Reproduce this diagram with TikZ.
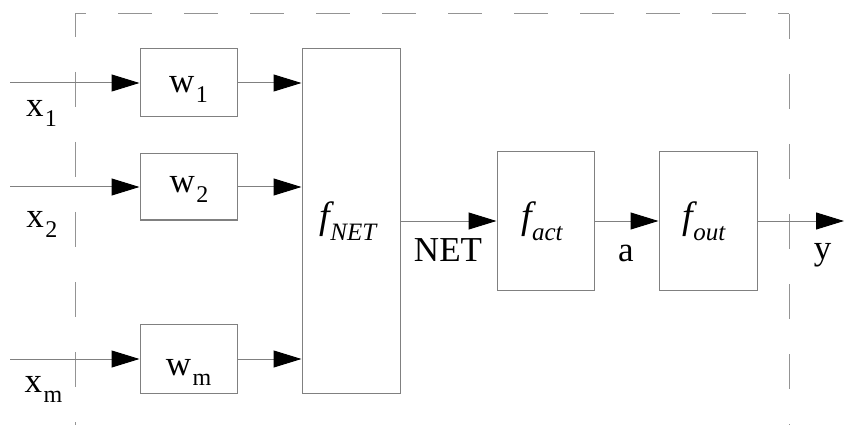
\documentclass[tikz,border=0pt]{standalone}
\usepackage{fontspec}
\setmainfont{Liberation Serif}
\usetikzlibrary{arrows.meta}

% variable with a lowered index, e.g. x_1, w_m
\newcommand{\idx}[2]{#1\kern1.5pt\raisebox{-10pt}{\fontsize{24}{24}\selectfont #2}}
% italic function name with italic lowered index, e.g. f_act
\newcommand{\fidx}[1]{{\fontsize{38}{40}\selectfont\itshape f}\raisebox{-12pt}{\fontsize{25}{25}\selectfont\itshape #1}}

\tikzset{
  lin/.style={draw=black!50, line width=1pt},
  arr/.style={lin, -{Triangle[length=28pt,width=17pt,color=black]}},
  blk/.style={draw=black!50, line width=1pt, inner sep=0pt},
  frame/.style={draw=black!42, line width=1pt},
  txt/.style={anchor=base, inner sep=0pt, font=\fontsize{35}{36}\selectfont},
}

\begin{document}
\begin{tikzpicture}[x=1pt,y=-1pt]
\useasboundingbox (0,0) rectangle (844,425);

% dashed system boundary (open at the bottom)
\draw[frame, dash pattern=on 35pt off 35pt, dash phase=12pt] (75,14) -- (75,425);
\draw[frame, dash pattern=on 34pt off 32pt, dash phase=23pt] (75,14) -- (789,14);
\draw[frame, dash pattern=on 35pt off 35pt, dash phase=10pt] (789,14) -- (789,425);

% weight blocks
\node[blk, minimum width=97pt, minimum height=68pt] (w1) at (188.5,83) {};
\node[blk, minimum width=97pt, minimum height=66pt] (w2) at (188.5,187) {};
\node[blk, minimum width=97pt, minimum height=69pt] (wm) at (188.5,359) {};

% network, activation and output functions
\node[blk, minimum width=98pt, minimum height=344pt] (fnet) at (351,221) {};
\node[blk, minimum width=97pt, minimum height=138pt] (fact) at (545.5,221) {};
\node[blk, minimum width=98pt, minimum height=138pt] (fout) at (708,221) {};

% free ends of the inputs and the output
\coordinate (in1) at (10,83);
\coordinate (in2) at (10,187);
\coordinate (inm) at (10,359);
\coordinate (out) at (844,221);

% connectors
\draw[arr] (in1) -- (w1.west);
\draw[arr] (in2) -- (w2.west);
\draw[arr] (inm) -- (wm.west);
\draw[arr] (w1.east) -- (w1.east -| fnet.west);
\draw[arr] (w2.east) -- (w2.east -| fnet.west);
\draw[arr] (wm.east) -- (wm.east -| fnet.west);
\draw[arr] (fnet.east) -- (fact.west);
\draw[arr] (fact.east) -- (fout.west);
\draw[arr] (fout.east) -- (out);

% texts
\node[txt] (lx1) at (41.5,117) {\idx{x}{1}};
\node[txt] (lx2) at (42,227) {\idx{x}{2}};
\node[txt] (lxm) at (43.5,392) {\idx{x}{m}};
\node[txt] (lw1) at (188.5,93) {\idx{w}{1}};
\node[txt] (lw2) at (189,193) {\idx{w}{2}};
\node[txt] (lwm) at (188.5,375) {\idx{w}{m}};
\node[txt] (lfnet) at (348,229) {\fidx{NET}};
\node[txt] (lfact) at (542,229) {\fidx{act}};
\node[txt] (lfout) at (704,229) {\fidx{out}};
\node[txt] (lnet) at (448,261) {NET};
\node[txt] (la) at (626,261) {a};
\node[txt] (ly) at (822.5,259) {y};
\end{tikzpicture}
\end{document}
